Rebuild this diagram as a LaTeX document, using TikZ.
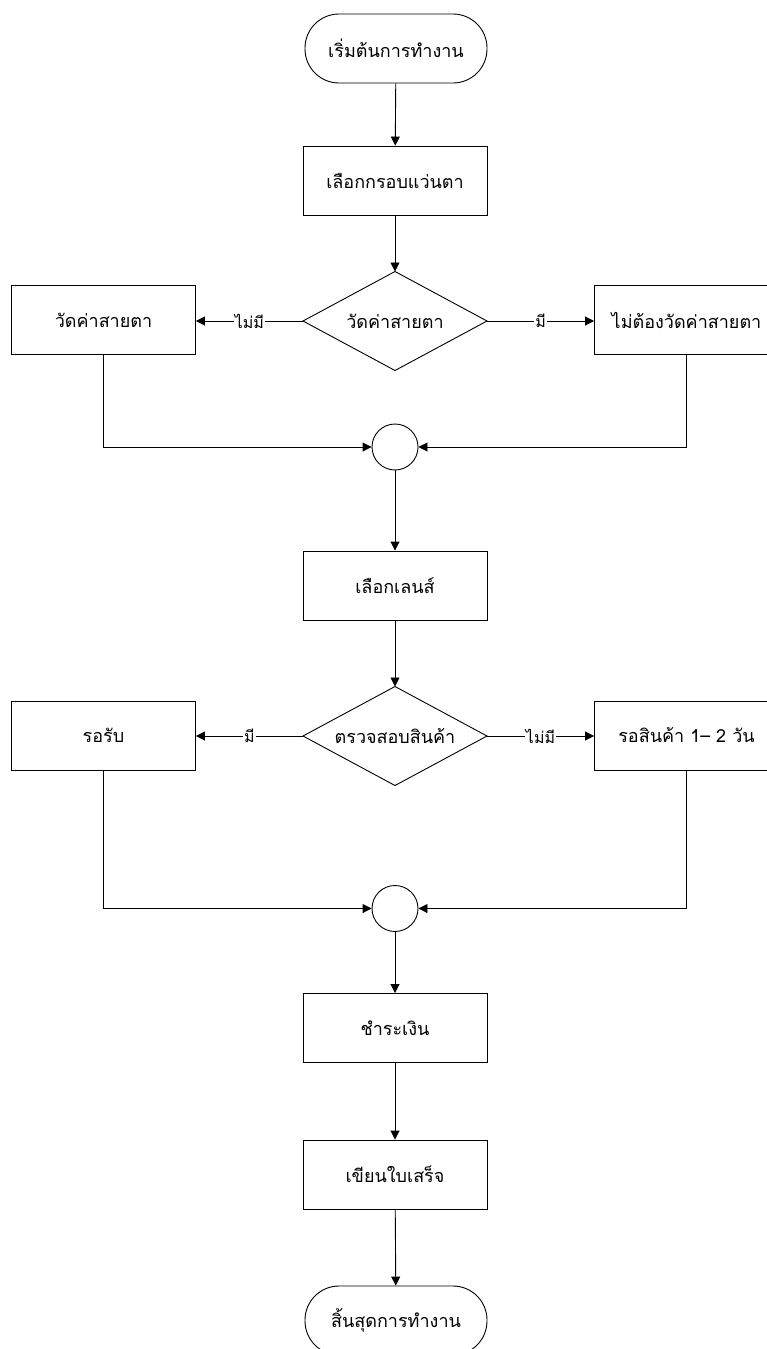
\documentclass[tikz,border=0pt]{standalone}
\usepackage{fontspec}
\newfontfamily\thaifont[Script=Thai]{Loma}
\usetikzlibrary{shapes.geometric,arrows.meta}
\begin{document}
\begin{tikzpicture}[x=1pt,y=-1pt,
  base/.style={draw,line width=0.9pt,font=\thaifont\fontsize{18}{21}\selectfont,inner sep=0pt,align=center},
  proc/.style={base,rectangle,minimum width=184pt,minimum height=69pt},
  term/.style={base,rectangle,rounded corners=34pt,minimum width=182pt,minimum height=69pt},
  dec/.style={base,draw=none,rectangle,minimum width=184pt,minimum height=99pt,outer sep=0pt},
  decline/.style={line width=0.9pt,line join=miter},
  junc/.style={draw,line width=0.9pt,circle,minimum size=46pt,inner sep=0pt},
  arr/.style={line width=0.9pt,-{Triangle[length=9pt,width=9pt]}},
  lab/.style={fill=white,font=\thaifont\fontsize{16}{18}\selectfont,inner sep=1pt}
]
\useasboundingbox (0,0) rectangle (767,1349);
\clip (0,0) rectangle (767,1349);
\fill[white] (0,0) rectangle (767,1349);

\node[term] (start) at (396,48.5) {เริ่มต้นการทำงาน};
\node[proc] (b1) at (395,180.5) {เลือกกรอบแว่นตา};
\node[dec] (d1) at (395,321) {วัดค่าสายตา};
\draw[decline] (d1.north) -- (d1.east) -- (d1.south) -- (d1.west) -- cycle;
\node[proc] (l1) at (103.5,320) {วัดค่าสายตา};
\node[proc] (r1) at (686.5,320) {ไม่ต้องวัดค่าสายตา};
\node[junc] (j1) at (395,447) {};
\node[proc] (b2) at (395,585.5) {เลือกเลนส์};
\node[dec] (d2) at (395,736) {ตรวจสอบสินค้า};
\draw[decline] (d2.north) -- (d2.east) -- (d2.south) -- (d2.west) -- cycle;
\node[proc] (l2) at (103.5,735.5) {รอรับ};
\node[proc] (r2) at (686.5,735.5) {รอสินค้า 1– 2 วัน};
\node[junc] (j2) at (395,908.5) {};
\node[proc] (b3) at (395,1028) {ชำระเงิน};
\node[proc] (b4) at (395,1174.5) {เขียนใบเสร็จ};
\node[term] (end) at (396,1320.5) {สิ้นสุดการทำงาน};

\draw[arr] (start) -- (b1);
\draw[arr] (b1) -- (d1);
\draw[arr] (d1.west) -- node[lab] {ไม่มี} (d1.west -| l1.east);
\draw[arr] (d1.east) -- node[lab] {มี} (d1.east -| r1.west);
\draw[arr] (l1.south) |- (j1.west);
\draw[arr] (r1.south) |- (j1.east);
\draw[arr] (j1) -- (b2);
\draw[arr] (b2) -- (d2);
\draw[arr] (d2.west) -- node[lab] {มี} (d2.west -| l2.east);
\draw[arr] (d2.east) -- node[lab] {ไม่มี} (d2.east -| r2.west);
\draw[arr] (l2.south) |- (j2.west);
\draw[arr] (r2.south) |- (j2.east);
\draw[arr] (j2) -- (b3);
\draw[arr] (b3) -- (b4);
\draw[arr] (b4) -- (end);
\end{tikzpicture}
\end{document}
